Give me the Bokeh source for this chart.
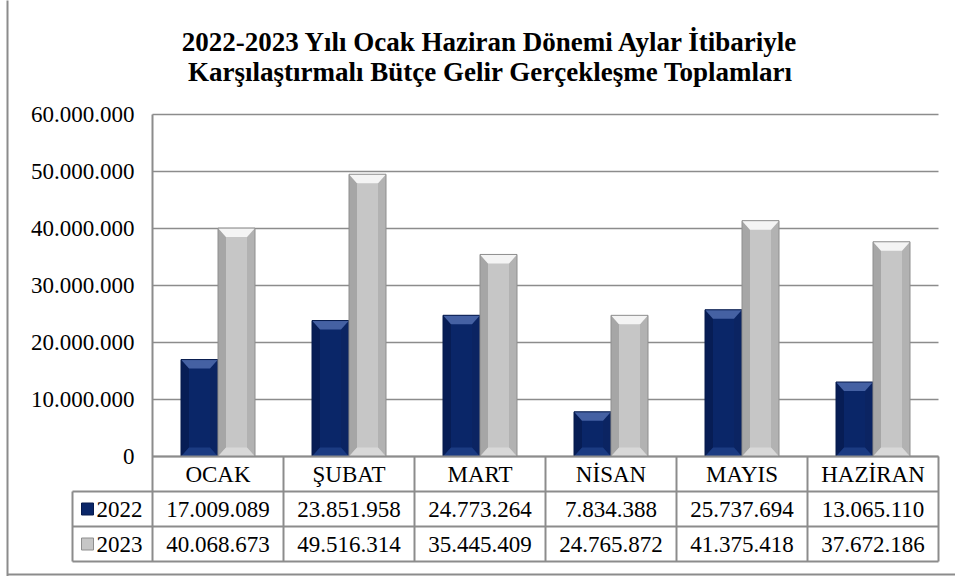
from bokeh.plotting import figure
from bokeh.models import Range1d, FixedTicker, CustomJSTickFormatter, ColumnDataSource
from bokeh.core.properties import value
from bokeh.embed import file_html
from bokeh.resources import INLINE

# ---------------- data ----------------
months = ["OCAK", "ŞUBAT", "MART", "NİSAN", "MAYIS", "HAZİRAN"]
years = ["2022", "2023"]
values_2022 = [17009089, 23851958, 24773264, 7834388, 25737694, 13065110]
values_2023 = [40068673, 49516314, 35445409, 24765872, 41375418, 37672186]
y_ticks = [0, 10000000, 20000000, 30000000, 40000000, 50000000, 60000000]
title_lines = ["2022-2023 Yılı Ocak Haziran Dönemi Aylar İtibariyle",
               "Karşılaştırmalı Bütçe Gelir Gerçekleşme Toplamları"]

# ---------------- layout (pixels) ----------------
W, H = 955, 576
X0_PX, Y0_PX = 152, 456       # pixel position of (x=0, y=0)
PX_PER_CAT = 131.0            # pixels per category
PX_PER_UNIT = 5.7e-6          # pixels per unit value
FRAME_L = 7

def px_x(dx):   # pixel offset -> x data
    return dx / PX_PER_CAT

def px_y(dy):   # pixel offset -> y data
    return dy / PX_PER_UNIT

x_start = px_x(FRAME_L - X0_PX)
x_end = px_x(W - X0_PX)
y_end = px_y(Y0_PX)
y_start = -px_y(H - Y0_PX)

FONT = "Liberation Serif"
FS = "23px"
GRID = "#8c8c8c"
ROW_H = px_y(35)
n = len(months)

p = figure(width=W, height=H, output_backend="svg", toolbar_location=None,
           x_range=Range1d(x_start, x_end), y_range=Range1d(y_start, y_end),
           x_axis_location=None, min_border_left=FRAME_L, min_border_right=0,
           min_border_top=0, min_border_bottom=0, min_border=0)
p.outline_line_color = None
p.background_fill_color = "white"
p.border_fill_color = "white"
p.xgrid.visible = False
p.ygrid.visible = False

# y axis: its line is the chart's outer left border, labels sit left of the plot area
ax = p.yaxis[0]
ax.ticker = FixedTicker(ticks=y_ticks)
ax.formatter = CustomJSTickFormatter(
    code="return Math.round(tick).toString().replace(/\\B(?=(\\d{3})+(?!\\d))/g, '.');")
ax.major_label_text_font = FONT
ax.major_label_text_font_size = FS
ax.major_label_text_color = "black"
ax.major_tick_out = 0
ax.major_tick_in = 0
ax.minor_tick_out = 0
ax.minor_tick_in = 0
ax.major_label_standoff = -(X0_PX - 18 - FRAME_L)
ax.axis_line_color = GRID
ax.axis_line_width = 2

# grid lines over the plot area
p.segment(x0=0, x1=n, y0=y_ticks, y1=y_ticks, line_color=GRID, line_width=1.5)

# ---------------- bars with bevel ----------------
BAR_W = px_x(37)
BX, BY = px_x(8), px_y(9)
series = [
    (values_2022, -BAR_W / 2, dict(body="#0a2668", left="#071d55", right="#0b2462",
                                   top="#4561a3", bottom="#1b3b82", line="#061a4c")),
    (values_2023, BAR_W / 2, dict(body="#c6c6c6", left="#a6a6a6", right="#b2b2b2",
                                  top="#f4f4f4", bottom="#d8d8d8", line="#8e8e8e")),
]
for vals, off, col in series:
    x0 = [i + 0.5 + off - BAR_W / 2 for i in range(len(vals))]
    x1 = [a + BAR_W for a in x0]
    p.quad(left=x0, right=x1, bottom=0, top=vals, fill_color=col["body"], line_color=None)
    parts = {"left": ([], []), "right": ([], []), "top": ([], []), "bottom": ([], [])}
    for a, b, v in zip(x0, x1, vals):
        parts["left"][0].append([a, a + BX, a + BX, a])
        parts["left"][1].append([0, BY, v - BY, v])
        parts["right"][0].append([b, b - BX, b - BX, b])
        parts["right"][1].append([0, BY, v - BY, v])
        parts["top"][0].append([a, b, b - BX, a + BX])
        parts["top"][1].append([v, v, v - BY, v - BY])
        parts["bottom"][0].append([a, b, b - BX, a + BX])
        parts["bottom"][1].append([0, 0, BY, BY])
    for k, (xs, ys) in parts.items():
        p.patches(xs=xs, ys=ys, fill_color=col[k], line_color=None)
    p.quad(left=x0, right=x1, bottom=0, top=vals, fill_color=None,
           line_color=col["line"], line_width=1)

# left edge of plot area
p.segment(x0=0, x1=0, y0=y_ticks[-1], y1=-3 * ROW_H, line_color=GRID, line_width=2)

# ---------------- data table ----------------
LEG_L = px_x(-80)
for r in range(4):
    xl = 0 if r == 0 else LEG_L
    p.segment(x0=xl, x1=n, y0=-r * ROW_H, y1=-r * ROW_H, line_color=GRID, line_width=2)
p.segment(x0=list(range(1, n + 1)), x1=list(range(1, n + 1)), y0=0, y1=-3 * ROW_H,
          line_color=GRID, line_width=2)
p.segment(x0=LEG_L, x1=LEG_L, y0=-ROW_H, y1=-3 * ROW_H, line_color=GRID, line_width=2)

def fmt(v):
    return f"{v:,}".replace(",", ".")

tsrc = ColumnDataSource(dict(
    x=[i + 0.5 for i in range(n)] * 3,
    y=[-0.5 * ROW_H] * n + [-1.5 * ROW_H] * n + [-2.5 * ROW_H] * n,
    t=months + [fmt(v) for v in values_2022] + [fmt(v) for v in values_2023],
))
p.text(x="x", y="y", text="t", source=tsrc, text_font=value(FONT),
       text_font_size=value(FS), text_align="center", text_baseline="middle",
       text_color="black")

# legend keys in the table
leg_mid = [-1.5 * ROW_H, -2.5 * ROW_H]
p.quad(left=px_x(-71), right=px_x(-59), bottom=[m - px_y(6) for m in leg_mid],
       top=[m + px_y(6) for m in leg_mid], fill_color=["#0a2668", "#c6c6c6"],
       line_color=["#061a4c", "#8e8e8e"], line_width=1)
p.text(x=px_x(-56), y=leg_mid, text=years, text_font=value(FONT),
       text_font_size=value(FS), text_align="left", text_baseline="middle",
       text_color="black")

# ---------------- title ----------------
p.text(x=px_x(338), y=[px_y(Y0_PX - 41), px_y(Y0_PX - 71)], text=title_lines,
       text_font=value(FONT), text_font_size=value("27px"), text_font_style="bold",
       text_align="center", text_baseline="middle", text_color="black")

# ---------------- outer frame bottom line ----------------
p.segment(x0=x_start, x1=x_end, y0=-px_y(574 - Y0_PX), y1=-px_y(574 - Y0_PX),
          line_color=GRID, line_width=2)

open("out.html", "w").write(file_html(p, INLINE))
